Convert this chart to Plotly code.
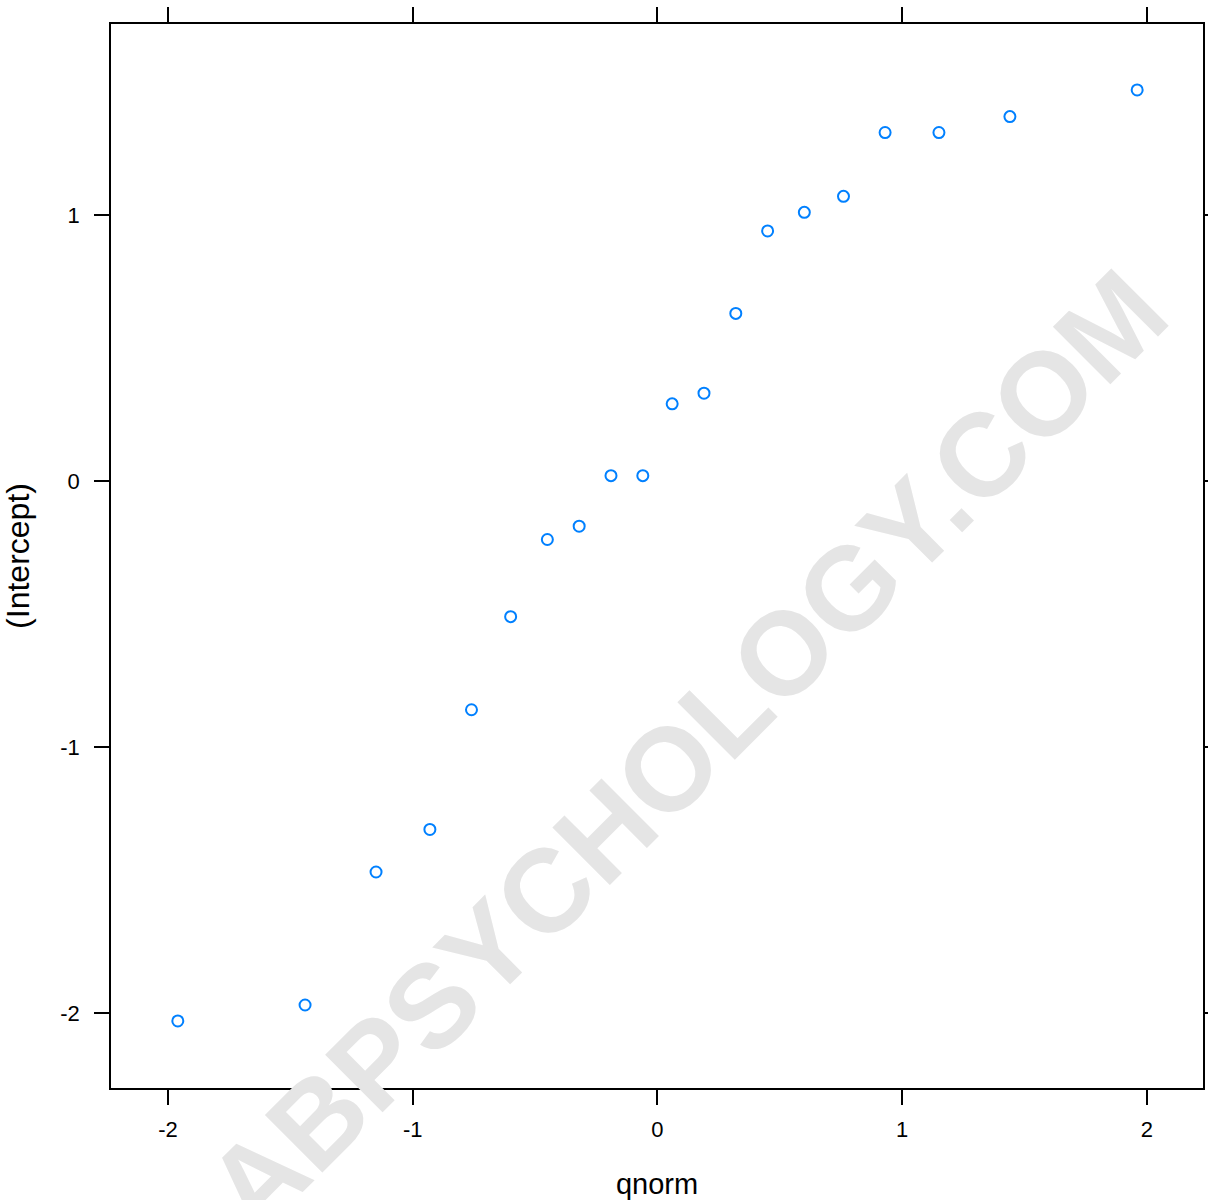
import plotly.graph_objects as go

# Theoretical normal quantiles (x) and sample intercept values (y)
qnorm = [-1.96, -1.44, -1.15, -0.93, -0.76, -0.60, -0.45, -0.32, -0.19, -0.06,
         0.06, 0.19, 0.32, 0.45, 0.60, 0.76, 0.93, 1.15, 1.44, 1.96]
intercept = [-2.03, -1.97, -1.47, -1.31, -0.86, -0.51, -0.22, -0.17, 0.02, 0.02,
             0.29, 0.33, 0.63, 0.94, 1.01, 1.07, 1.31, 1.31, 1.37, 1.47]
x_ticks = [-2, -1, 0, 1, 2]
y_ticks = [-2, -1, 0, 1]

FONT = "Liberation Sans, Arial, sans-serif"

fig = go.Figure()
fig.add_trace(go.Scatter(
    x=qnorm, y=intercept, mode="markers",
    marker=dict(symbol="circle-open", size=11, color="#0080ff",
                line=dict(width=2, color="#0080ff")),
    showlegend=False, cliponaxis=False,
))

axis_common = dict(
    showgrid=False, zeroline=False, showline=True, linecolor="black", linewidth=1.5,
    mirror="ticks", ticks="outside", ticklen=15, tickwidth=1.5, tickcolor="black",
    tickfont=dict(family=FONT, size=22, color="black"), automargin=False,
)
fig.update_xaxes(range=[-2.233, 2.229], tickvals=x_ticks, ticktext=[str(v) for v in x_ticks],
                 ticklabelstandoff=6,
                 title=dict(text="qnorm", font=dict(family=FONT, size=29, color="black"),
                            standoff=36),
                 **axis_common)
fig.update_yaxes(range=[-2.282, 1.718], tickvals=y_ticks, ticktext=[str(v) for v in y_ticks],
                 ticklabelstandoff=10,
                 title=dict(text="(Intercept)", font=dict(family=FONT, size=32, color="black"),
                            standoff=26),
                 **axis_common)

fig.add_annotation(
    text="<b>ABPSYCHOLOGY.COM</b>", xref="paper", yref="paper",
    x=0.527, y=0.318, xanchor="center", yanchor="middle", textangle=-45, showarrow=False,
    font=dict(family=FONT, size=118, color="#e5e5e5"),
)

fig.update_layout(
    width=1208, height=1200,
    margin=dict(l=111, r=5, t=24, b=112),
    plot_bgcolor="white", paper_bgcolor="white",
)

fig.write_html("out.html")
